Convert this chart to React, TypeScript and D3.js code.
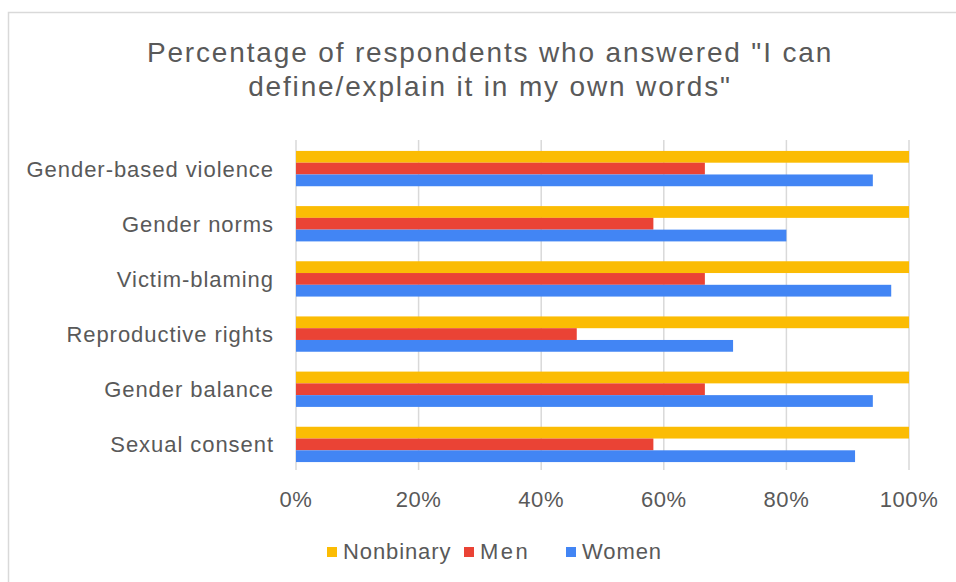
import React from "react";
import * as d3 from "d3";

const categories = [
  "Gender-based violence",
  "Gender norms",
  "Victim-blaming",
  "Reproductive rights",
  "Gender balance",
  "Sexual consent",
];
const seriesNames = ["Nonbinary", "Men", "Women"];
const nonbinary = [100, 100, 100, 100, 100, 100];
const men = [66.7, 58.3, 66.7, 45.8, 66.7, 58.3];
const women = [94.1, 80, 97.1, 71.3, 94.1, 91.2];
const xTicks = [0, 20, 40, 60, 80, 100];
const titleLines = [
  "Percentage of respondents who answered \"I can",
  "define/explain it in my own words\"",
];

const colors = ["#FBBC04", "#EA4335", "#4285F4"];
const seriesValues = [nonbinary, men, women];

export default function App() {
  const W = 956, H = 582;
  const left = 296, right = 909, top = 140, bottom = 471;
  const x = d3.scaleLinear().domain([0, 100]).range([left, right]);
  const y = d3.scaleBand<string>().domain(categories).range([top + 1, bottom + 1]).paddingInner(0.36).paddingOuter(0.18);
  const ySub = d3.scaleBand<string>().domain(seriesNames).range([0, y.bandwidth()]).padding(0);
  const textColor = "#595959";
  const font = "Arial, 'Liberation Sans', sans-serif";
  const legendX = [327, 464, 566];
  const legendSpacing = [0.9, 2.5, 0.9];

  return (
    <svg width={W} height={H} style={{ position: "absolute", left: 0, top: 0, background: "#fff" }} fontFamily={font}>
      <rect x={8.5} y={12.5} width={1000} height={700} fill="#fff" stroke="#d9d9d9" strokeWidth={1.5} />
      {titleLines.map((t, i) => (
        <text key={i} x={490} y={62 + i * 34} textAnchor="middle" fontSize={28} letterSpacing={1.85} fill={textColor}>
          {t}
        </text>
      ))}
      {xTicks.map((t) => (
        <line key={"g" + t} x1={x(t)} x2={x(t)} y1={top} y2={bottom - 1} stroke="#d9d9d9" strokeWidth={1.5} />
      ))}
      {categories.map((c, ci) => (
        <g key={c}>
          {seriesNames.map((s, si) => (
            <rect
              key={s}
              x={x(0)}
              y={(y(c) as number) + (ySub(s) as number)}
              width={x(seriesValues[si][ci]) - x(0)}
              height={ySub.bandwidth()}
              fill={colors[si]}
            />
          ))}
          <text x={274} y={(y(c) as number) + y.bandwidth() / 2 + 8} textAnchor="end" fontSize={22} letterSpacing={0.95} fill={textColor}>
            {c}
          </text>
        </g>
      ))}
      {xTicks.map((t) => (
        <text key={"t" + t} x={x(t)} y={507} textAnchor="middle" fontSize={22} letterSpacing={0.6} fill={textColor}>
          {t + "%"}
        </text>
      ))}
      {seriesNames.map((s, i) => (
        <g key={s}>
          <rect x={legendX[i]} y={547} width={10} height={10} fill={colors[i]} />
          <text x={legendX[i] + 16} y={559} fontSize={22} letterSpacing={legendSpacing[i]} fill={textColor}>
            {s}
          </text>
        </g>
      ))}
    </svg>
  );
}
